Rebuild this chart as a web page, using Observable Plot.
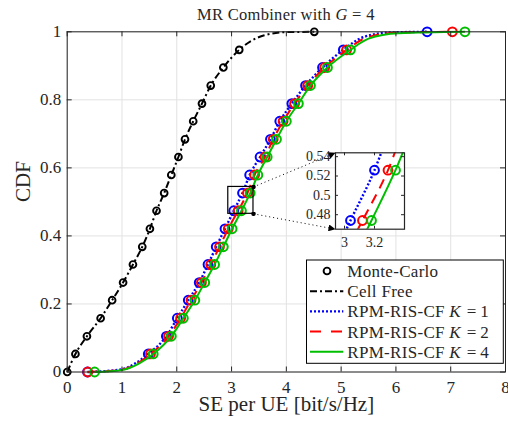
<!DOCTYPE html>
<html><head><meta charset="utf-8">
<script src="https://cdn.jsdelivr.net/npm/d3@7"></script>
<script src="https://cdn.jsdelivr.net/npm/@observablehq/plot@0.6"></script>
<style>
body{margin:0;background:#fff;}
#wrap{position:relative;width:508px;height:422px;overflow:hidden;font-family:"Liberation Serif",serif;color:#262626;}
#title{position:absolute;left:66.7px;width:438.3px;top:6.5px;text-align:center;font-size:16.5px;line-height:16px;letter-spacing:0.3px;white-space:nowrap;}
#wrap svg{position:absolute;}
</style></head>
<body><div id="wrap"><div id="title">MR Combiner with <i>G</i> = 4</div></div>
<script>
// ---- data ----
const levels = [0, 0.053, 0.105, 0.158, 0.211, 0.263, 0.316, 0.368, 0.421, 0.474, 0.526, 0.579, 0.632, 0.684, 0.737, 0.789, 0.842, 0.895, 0.947, 1];
const cellFreeX = [0, 0.15, 0.36, 0.61, 0.82, 1.02, 1.20, 1.37, 1.51, 1.63, 1.77, 1.90, 2.03, 2.15, 2.30, 2.46, 2.62, 2.85, 3.14, 4.51];
const k1X = [0.37, 1.48, 1.81, 2.01, 2.21, 2.41, 2.57, 2.72, 2.88, 3.04, 3.20, 3.33, 3.52, 3.71, 3.88, 4.10, 4.35, 4.66, 5.04, 6.57];
const k2X = [0.375, 1.52, 1.85, 2.07, 2.26, 2.45, 2.62, 2.78, 2.94, 3.12, 3.29, 3.42, 3.61, 3.76, 3.94, 4.15, 4.39, 4.70, 5.10, 7.03];
const k4X = [0.50, 1.57, 1.90, 2.12, 2.33, 2.51, 2.69, 2.85, 3.01, 3.18, 3.34, 3.48, 3.65, 3.82, 4.00, 4.22, 4.44, 4.75, 5.17, 7.26];
// extra points of the curves (between markers, at the tails)
const cellFreeTailX = [3.6, 4.0], cellFreeTailY = [0.99, 0.999];
const k1TailX = [1.0, 1.25, 5.4, 5.9], k1TailY = [0.008, 0.026, 0.984, 0.998];
const k2TailX = [1.0, 1.28, 5.45, 6.0], k2TailY = [0.007, 0.025, 0.982, 0.997];
const k4TailX = [1.0, 1.3, 5.5, 6.05], k4TailY = [0.006, 0.024, 0.98, 0.996];
const xTicks = [0, 1, 2, 3, 4, 5, 6, 7, 8];
const yTicks = [0, 0.2, 0.4, 0.6, 0.8, 1];
const yTickLabels = ["0", "0.2", "0.4", "0.6", "0.8", "1"];
const zoomX = [2.94, 3.40], zoomY = [0.465, 0.544];
const insetXTicks = [3, 3.2], insetXLabels = ["3", "3.2"];
const insetYTicks = [0.48, 0.5, 0.52, 0.54], insetYLabels = ["0.48", "0.5", "0.52", "0.54"];
const legendLabels = ["Monte-Carlo", "Cell Free", "RPM-RIS-CF K = 1", "RPM-RIS-CF K = 2", "RPM-RIS-CF K = 4"];

// ---- helpers ----
const rows = (xs, ys) => xs.map((x, i) => ({x, y: ys[i]}));
const series = [
  {markers: rows(cellFreeX, levels), line: rows(cellFreeX, levels).concat(rows(cellFreeTailX, cellFreeTailY)), color: "#000000", dash: "7,3,2,3", width: 2, r: 3.4, sw: 1.9},
  {markers: rows(k1X, levels), line: rows(k1X, levels).concat(rows(k1TailX, k1TailY)), color: "#0000ff", dash: "2,2", width: 2.4, r: 4.4, sw: 2},
  {markers: rows(k2X, levels), line: rows(k2X, levels).concat(rows(k2TailX, k2TailY)), color: "#ff0000", dash: "10,7", width: 2, r: 4.4, sw: 2},
  {markers: rows(k4X, levels), line: rows(k4X, levels).concat(rows(k4TailX, k4TailY)), color: "#00bf00", dash: null, width: 2, r: 4.4, sw: 2}
];
series.forEach(s => s.line.sort((a, b) => a.x - b.x));
function seriesMarks(clip) {
  const out = [];
  for (const s of series) {
    out.push(Plot.line(s.line, {x: "x", y: "y", curve: "monotone-x", stroke: s.color, strokeWidth: s.width,
      strokeDasharray: s.dash || undefined, strokeLinecap: "butt", strokeLinejoin: "round", clip}));
    out.push(Plot.dot(s.markers, {x: "x", y: "y", r: s.r, stroke: s.color, strokeWidth: s.sw, fill: "none", clip}));
  }
  return out;
}

const W = 508, H = 422, mL = 66.7, mR = 3, mT = 31.3, mB = 50.5;
const FONT = "Liberation Serif";
const TXT = "#262626";
// inset placement (pixels in page)
const inset = {left: 290, top: 140, width: 120, height: 110, mL: 45, mT: 12.3, mR: 6, mB: 21.3};
const insetFrameLeft = inset.left + inset.mL;
const insetFrameTop = inset.top + inset.mT;
const insetFrameBottom = inset.top + inset.height - inset.mB;
const xS = d3.scaleLinear([0, 8], [mL, W - mR]);
const yS = d3.scaleLinear([0, 1], [H - mB, mT]);
const arrows = [
  {x1: zoomX[1], y1: zoomY[1], x2: xS.invert(insetFrameLeft), y2: yS.invert(insetFrameTop)},
  {x1: zoomX[1], y1: zoomY[0], x2: xS.invert(insetFrameLeft), y2: yS.invert(insetFrameBottom)}
];
const tx = 5 / 54.79, ty = 5 / 340.2;

const main = Plot.plot({
  width: W, height: H, marginLeft: mL, marginRight: mR, marginTop: mT, marginBottom: mB,
  x: {domain: [0, 8], axis: null},
  y: {domain: [0, 1], axis: null},
  style: {fontFamily: FONT, background: "transparent", color: TXT},
  marks: [
    Plot.ruleX(xTicks, {x: d => d, stroke: "#e2e2e2", strokeWidth: 1}),
    Plot.ruleY(yTicks, {y: d => d, stroke: "#e2e2e2", strokeWidth: 1}),
    ...seriesMarks(false),
    Plot.rect([0], {x1: () => zoomX[0], x2: () => zoomX[1], y1: () => zoomY[0], y2: () => zoomY[1], fill: "none", stroke: "#000", strokeWidth: 1.2}),
    Plot.link(arrows, {x1: "x1", y1: "y1", x2: "x2", y2: "y2", stroke: "#000", strokeWidth: 1, strokeDasharray: "1,3"}),
    Plot.ruleX(xTicks, {x: d => d, y1: () => 0, y2: () => ty, stroke: TXT}),
    Plot.ruleX(xTicks, {x: d => d, y1: () => 1, y2: () => 1 - ty, stroke: TXT}),
    Plot.ruleY(yTicks, {y: d => d, x1: () => 0, x2: () => tx, stroke: TXT}),
    Plot.ruleY(yTicks, {y: d => d, x1: () => 8, x2: () => 8 - tx, stroke: TXT}),
    Plot.frame({stroke: TXT, strokeWidth: 1}),
    Plot.text(xTicks, {x: d => d, y: () => 0, dy: 15.5, text: d => String(d), fontSize: 17, fill: TXT, lineAnchor: "middle"}),
    Plot.text(yTicks, {x: () => 0, y: d => d, dx: -6, text: (d, i) => yTickLabels[i], textAnchor: "end", fontSize: 17, fill: TXT, lineAnchor: "middle"}),
    Plot.text(["SE per UE [bit/s/Hz]"], {frameAnchor: "bottom", dy: 32, text: d => d, fontSize: 21, fill: TXT, lineAnchor: "middle"}),
    Plot.text(["CDF"], {frameAnchor: "left", dx: -44, rotate: -90, text: d => d, fontSize: 21, fill: TXT, lineAnchor: "middle"})
  ]
});
main.style.left = "0px"; main.style.top = "0px";
document.getElementById("wrap").appendChild(main);

// arrowheads and start dots on the zoom links
const svg = d3.select(main);
const defs = svg.append("defs");
defs.append("marker").attr("id", "ah").attr("viewBox", "0 0 10 10").attr("refX", 10).attr("refY", 5)
  .attr("markerWidth", 8).attr("markerHeight", 7).attr("markerUnits", "userSpaceOnUse").attr("orient", "auto")
  .append("path").attr("d", "M0,0L10,5L0,10z").attr("fill", "#000");
defs.append("marker").attr("id", "dt").attr("viewBox", "0 0 10 10").attr("refX", 5).attr("refY", 5)
  .attr("markerWidth", 4.5).attr("markerHeight", 4.5).attr("markerUnits", "userSpaceOnUse")
  .append("circle").attr("cx", 5).attr("cy", 5).attr("r", 5).attr("fill", "#000");
svg.selectAll('g[aria-label="link"] path').attr("marker-end", "url(#ah)").attr("marker-start", "url(#dt)");

// legend
const lg = svg.append("g").attr("font-family", FONT).attr("font-size", 17).attr("letter-spacing", "0.3px").attr("fill", TXT).attr("text-anchor", "start");
const LX = 306.5, LY = 260, LW = 196.8, LH = 103.3, rowY0 = 271, rowDY = 20.2;
lg.append("rect").attr("x", LX).attr("y", LY).attr("width", LW).attr("height", LH).attr("fill", "#fff").attr("stroke", "#000").attr("stroke-width", 1);
const legendStyles = [
  {marker: true, color: "#000"},
  {color: "#000", dash: "7,3,2,3", width: 2},
  {color: "#0000ff", dash: "2,2", width: 2.4},
  {color: "#ff0000", dash: "11,10", width: 2},
  {color: "#00bf00", dash: null, width: 2}
];
legendLabels.forEach((lab, i) => {
  const y = rowY0 + i * rowDY, st = legendStyles[i];
  if (st.marker) {
    lg.append("circle").attr("cx", 327).attr("cy", y).attr("r", 3.4).attr("fill", "none").attr("stroke", st.color).attr("stroke-width", 1.9);
  } else {
    lg.append("line").attr("x1", 310).attr("x2", 343.3).attr("y1", y).attr("y2", y)
      .attr("stroke", st.color).attr("stroke-width", st.width).attr("stroke-dasharray", st.dash).attr("stroke-linecap", "butt");
  }
  const t = lg.append("text").attr("x", 347.3).attr("y", y).attr("dy", "0.35em");
  const m = lab.match(/^(.*) K = (\d)$/);
  if (m) {
    t.append("tspan").text(m[1] + " ");
    t.append("tspan").attr("font-style", "italic").text("K");
    t.append("tspan").text("\u2009=\u2009" + m[2]).attr("dx", 2);
  } else t.text(lab);
});

// inset zoom plot
const itx = 3 / 150, ity = 3 / 967;
const ins = Plot.plot({
  width: inset.width, height: inset.height,
  marginLeft: inset.mL, marginTop: inset.mT, marginRight: inset.mR, marginBottom: inset.mB,
  x: {domain: zoomX, axis: null},
  y: {domain: zoomY, axis: null},
  style: {fontFamily: FONT, background: "transparent", color: TXT, overflow: "visible"},
  marks: [
    Plot.frame({fill: "#fff", stroke: "none"}),
    ...seriesMarks(true),
    Plot.ruleX(insetXTicks, {x: d => d, y1: () => zoomY[0], y2: () => zoomY[0] + ity, stroke: TXT}),
    Plot.ruleX(insetXTicks, {x: d => d, y1: () => zoomY[1], y2: () => zoomY[1] - ity, stroke: TXT}),
    Plot.ruleY(insetYTicks, {y: d => d, x1: () => zoomX[0], x2: () => zoomX[0] + itx, stroke: TXT}),
    Plot.ruleY(insetYTicks, {y: d => d, x1: () => zoomX[1], x2: () => zoomX[1] - itx, stroke: TXT}),
    Plot.frame({stroke: TXT, strokeWidth: 1.2}),
    Plot.text(insetXTicks, {x: d => d, y: () => zoomY[0], dy: 13, text: (d, i) => insetXLabels[i], fontSize: 14, fill: TXT, lineAnchor: "middle"}),
    Plot.text(insetYTicks, {x: () => zoomX[0], y: d => d, dx: -5, text: (d, i) => insetYLabels[i], textAnchor: "end", fontSize: 14, fill: TXT, lineAnchor: "middle"})
  ]
});
ins.style.left = inset.left + "px"; ins.style.top = inset.top + "px";
document.getElementById("wrap").appendChild(ins);
</script>
</body></html>
